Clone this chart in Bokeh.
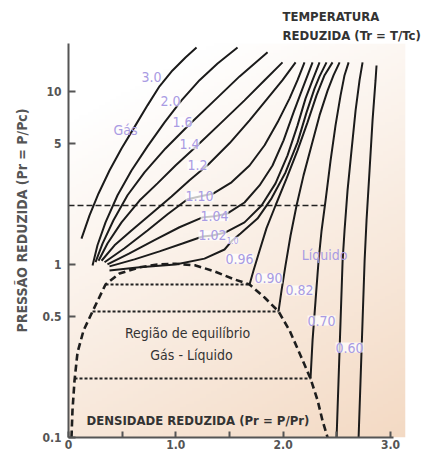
import numpy as np
from bokeh.plotting import figure
from bokeh.models import Label, FixedTicker, Range1d, Title
from bokeh.embed import file_html
from bokeh.resources import INLINE

# ---------------- data (reduced density, reduced pressure) ----------------
tr_labels = ["3.0", "2.0", "1.6", "1.4", "1.2", "1.10", "1.04", "1.02", "1.0",
             "0.96", "0.90", "0.82", "0.70", "0.60"]

rho_300 = [0.121, 0.196, 0.280, 0.382, 0.494, 0.624, 0.736, 0.848, 0.969, 1.090, 1.193]
pr_300 = [1.41, 1.92, 2.57, 3.49, 4.68, 6.36, 8.30, 10.7, 13.2, 15.7, 17.9]

rho_200 = [0.224, 0.270, 0.345, 0.457, 0.587, 0.736, 0.895, 1.053, 1.221, 1.389, 1.575]
pr_200 = [0.987, 1.29, 1.75, 2.51, 3.49, 4.81, 6.62, 8.87, 11.6, 14.5, 17.9]

rho_160 = [0.252, 0.317, 0.419, 0.550, 0.708, 0.904, 1.128, 1.361, 1.594, 1.855]
pr_160 = [1.03, 1.32, 1.80, 2.51, 3.40, 4.68, 6.45, 8.87, 12.2, 16.8]

rho_140 = [0.280, 0.363, 0.494, 0.662, 0.829, 0.997, 1.202, 1.426, 1.640, 1.827, 1.994]
pr_140 = [1.05, 1.32, 1.75, 2.34, 2.94, 3.73, 4.88, 6.62, 8.87, 11.6, 14.7]

rho_120 = [0.308, 0.429, 0.587, 0.774, 0.960, 1.128, 1.305, 1.500, 1.687, 1.855, 1.994, 2.116]
pr_120 = [1.05, 1.29, 1.57, 1.97, 2.47, 3.06, 3.79, 5.01, 6.80, 9.11, 11.6, 14.7]

rho_110 = [0.336, 0.522, 0.736, 0.923, 1.109, 1.221, 1.351, 1.519, 1.687, 1.827, 1.948, 2.060, 2.134, 2.199]
pr_110 = [1.03, 1.24, 1.57, 1.95, 2.38, 2.47, 2.57, 2.98, 3.73, 4.88, 6.62, 9.11, 11.6, 14.7]

rho_104 = [0.363, 0.568, 0.801, 1.034, 1.249, 1.361, 1.482, 1.640, 1.780, 1.901, 2.004, 2.097, 2.181, 2.274]
pr_104 = [1.00, 1.16, 1.38, 1.64, 1.87, 1.90, 1.97, 2.28, 2.86, 3.73, 5.21, 7.56, 10.4, 14.7]

rho_102 = [0.382, 0.615, 0.848, 1.062, 1.249, 1.342, 1.463, 1.640, 1.799, 1.929, 2.041, 2.134, 2.209, 2.274, 2.339]
pr_102 = [0.974, 1.07, 1.19, 1.32, 1.45, 1.47, 1.53, 1.75, 2.19, 2.94, 4.27, 6.36, 9.11, 11.6, 14.7]

rho_100 = [0.382, 0.662, 0.997, 1.267, 1.454, 1.528, 1.603, 1.761, 1.892, 2.022, 2.134, 2.218, 2.293, 2.339, 2.404]
pr_100 = [0.923, 0.962, 1.00, 1.08, 1.22, 1.38, 1.51, 1.84, 2.41, 3.40, 5.07, 7.56, 10.4, 12.2, 14.7]

rho_096 = [1.687, 1.724, 1.780, 1.845, 1.929, 2.032, 2.134, 2.227, 2.311, 2.386, 2.460]
pr_096 = [0.766, 0.923, 1.20, 1.62, 2.19, 3.14, 4.56, 6.62, 9.48, 12.4, 14.7]

rho_090 = [1.957, 1.985, 2.022, 2.069, 2.125, 2.190, 2.265, 2.339, 2.414, 2.470, 2.526]
pr_090 = [0.535, 0.708, 0.987, 1.47, 2.19, 3.27, 4.88, 7.26, 10.1, 12.4, 14.7]

rho_082 = [2.255, 2.274, 2.302, 2.330, 2.358, 2.395, 2.442, 2.488, 2.535, 2.572, 2.610]
pr_082 = [0.219, 0.364, 0.62, 1.05, 1.57, 2.34, 3.99, 6.36, 9.48, 12.4, 14.7]

rho_070 = [2.498, 2.516, 2.535, 2.554, 2.572, 2.600, 2.637, 2.675, 2.712, 2.740]
pr_070 = [0.10, 0.213, 0.474, 1.05, 1.57, 2.68, 4.56, 7.77, 11.6, 14.7]

rho_060 = [2.703, 2.721, 2.740, 2.759, 2.777, 2.805, 2.833, 2.861, 2.870]
pr_060 = [0.10, 0.213, 0.474, 1.05, 1.80, 3.49, 6.80, 11.6, 14.1]

# saturation dome
dome_rho = [0.028, 0.037, 0.056, 0.084, 0.140, 0.224, 0.345, 0.475, 0.662, 0.829, 0.997,
            1.184, 1.361, 1.547, 1.687, 1.827, 1.957, 2.060, 2.162, 2.255, 2.321, 2.367, 2.414]
dome_pr = [0.10, 0.143, 0.213, 0.310, 0.415, 0.535, 0.766, 0.887, 0.962, 1.00, 1.01,
           0.987, 0.911, 0.819, 0.766, 0.644, 0.535, 0.415, 0.298, 0.219, 0.164, 0.125, 0.10]

# tie lines (gas-liquid equilibrium)
tie_pr = [0.766, 0.535, 0.219]
tie_rho_gas = [0.345, 0.224, 0.056]
tie_rho_liq = [1.687, 1.957, 2.255]

# reference pressure line
ref_pr = [2.19]
ref_rho_end = [2.39]

y_ticks = [0.1, 0.5, 1, 5, 10]
y_tick_labels = ["0.1", "0.5", "1", "5", "10"]
x_ticks = [0, 1, 2, 3]
x_minor_ticks = [0.5, 1.5, 2.5]
x_tick_labels = ["0", "1.0", "2.0", "3.0"]

isotherms = [(rho_300, pr_300), (rho_200, pr_200), (rho_160, pr_160), (rho_140, pr_140),
             (rho_120, pr_120), (rho_110, pr_110), (rho_104, pr_104), (rho_102, pr_102),
             (rho_100, pr_100), (rho_096, pr_096), (rho_090, pr_090), (rho_082, pr_082),
             (rho_070, pr_070), (rho_060, pr_060)]

# label anchor positions (data coords)
lab_rho = [0.774, 0.951, 1.062, 1.128, 1.202, 1.221, 1.361, 1.342, 1.528, 1.594, 1.864, 2.153, 2.358, 2.619]
lab_pr = [12.05, 8.75, 6.62, 4.94, 3.73, 2.47, 1.90, 1.47, 1.38, 1.08, 0.830, 0.708, 0.474, 0.331]

# ---------------- figure ----------------
FONT = "DejaVu Sans Condensed, Roboto"
X_END = 3.14
Y_LO, Y_HI = 0.1, 18.9

p = figure(width=422, height=452, output_backend="svg", toolbar_location=None,
           x_range=Range1d(0, X_END), y_range=Range1d(Y_LO, Y_HI), y_axis_type="log",
           min_border_left=68, min_border_right=17, min_border_top=43, min_border_bottom=15)
p.outline_line_color = None
p.grid.visible = False
p.background_fill_color = "white"
p.border_fill_color = "white"

# titles outside the frame
p.title.text = "TEMPERATURA"
p.title.align = "left"
p.title.offset = 214
p.title.standoff = 2
p.title.text_font = FONT
p.title.text_font_style = "bold"
p.title.text_font_size = "13px"
p.title.text_color = "#333333"
p.add_layout(Title(text="REDUZIDA (Tr = T/Tc)", align="left", offset=214, standoff=2,
                   text_font=FONT, text_font_style="bold", text_font_size="13px",
                   text_color="#333333"), "above")
p.add_layout(Title(text="PRESSÃO REDUZIDA (Pr = P/Pc)", align="left", offset=105, standoff=20,
                   text_font=FONT, text_font_style="bold", text_font_size="14px",
                   text_color="#555555"), "left")

# gradient background
ny, nx = 120, 120
v = np.linspace(1, 0, ny)[:, None]
u = np.linspace(0, 1, nx)[None, :]
t = np.clip(0.75 * v + 0.35 * u - 0.15, 0, 1)
img = np.empty((ny, nx), dtype=np.uint32)
view = img.view(dtype=np.uint8).reshape((ny, nx, 4))
view[..., 0] = (255 + (243 - 255) * t).astype(np.uint8)
view[..., 1] = (255 + (216 - 255) * t).astype(np.uint8)
view[..., 2] = (255 + (193 - 255) * t).astype(np.uint8)
view[..., 3] = 255
p.image_rgba(image=[img], x=0, y=Y_LO, dw=X_END, dh=Y_HI - Y_LO)

# reference dashed line
p.segment(x0=[0], y0=ref_pr, x1=ref_rho_end, y1=ref_pr, line_color="#222222",
          line_width=1.6, line_dash="6 3")

# tie lines
p.segment(x0=tie_rho_gas, y0=tie_pr, x1=tie_rho_liq, y1=tie_pr, line_color="#222222",
          line_width=2, line_dash="3 2")

# dome
p.line(dome_rho, dome_pr, line_color="#1e1e1e", line_width=2.6, line_dash="7 4")

# isotherms
for rr, pp in isotherms:
    p.line(rr, pp, line_color="#1b1b1b", line_width=2)

# axes
xa = p.xaxis[0]
xa.ticker = FixedTicker(ticks=x_ticks, minor_ticks=x_minor_ticks)
xa.bounds = (0, 3.03)
xa.major_label_overrides = {k: s for k, s in zip(x_ticks, x_tick_labels)}
xa.major_tick_in = 6
xa.major_tick_out = 0
xa.minor_tick_in = 6
xa.minor_tick_out = 0
xa.major_label_standoff = 2

ya = p.yaxis[0]
ya.ticker = FixedTicker(ticks=y_ticks)
ya.major_label_overrides = {k: s for k, s in zip(y_ticks, y_tick_labels)}
ya.major_tick_in = 7
ya.major_tick_out = 0
ya.minor_tick_in = 0
ya.minor_tick_out = 0
ya.major_label_standoff = 7

for ax in (xa, ya):
    ax.axis_line_width = 2
    ax.axis_line_color = "#555555"
    ax.major_tick_line_width = 2
    ax.major_tick_line_color = "#555555"
    ax.minor_tick_line_width = 2
    ax.minor_tick_line_color = "#555555"
    ax.major_label_text_font = FONT
    ax.major_label_text_font_style = "bold"
    ax.major_label_text_font_size = "12px"
    ax.major_label_text_color = "#555555"

LAV = "#a99be3"
for txt, lx, ly in zip(tr_labels, lab_rho, lab_pr):
    fs = "8px" if txt == "1.0" else "14px"
    p.add_layout(Label(x=lx, y=ly, text=txt, text_align="center", text_baseline="middle",
                       text_color=LAV, text_font=FONT, text_font_size=fs,
                       background_fill_color="white", background_fill_alpha=0.75))

p.add_layout(Label(x=0.531, y=5.95, text="Gás", text_align="center", text_baseline="middle",
                   text_color=LAV, text_font=FONT, text_font_size="14px"))
p.add_layout(Label(x=2.386, y=1.13, text="Líquido", text_align="center", text_baseline="middle",
                   text_color=LAV, text_font=FONT, text_font_size="14px"))

p.add_layout(Label(x=1.109, y=0.399, text="Região de equilíbrio", text_align="center",
                   text_baseline="middle", text_color="#333333", text_font=FONT,
                   text_font_size="14px"))
p.add_layout(Label(x=1.146, y=0.298, text="Gás - Líquido", text_align="center",
                   text_baseline="middle", text_color="#333333", text_font=FONT,
                   text_font_size="14px"))
p.add_layout(Label(x=0.168, y=0.125, text="DENSIDADE REDUZIDA (Pr = P/Pr)", text_align="left",
                   text_baseline="middle", text_color="#333333", text_font=FONT,
                   text_font_style="bold", text_font_size="13px"))

open("out.html", "w").write(file_html(p, INLINE))
